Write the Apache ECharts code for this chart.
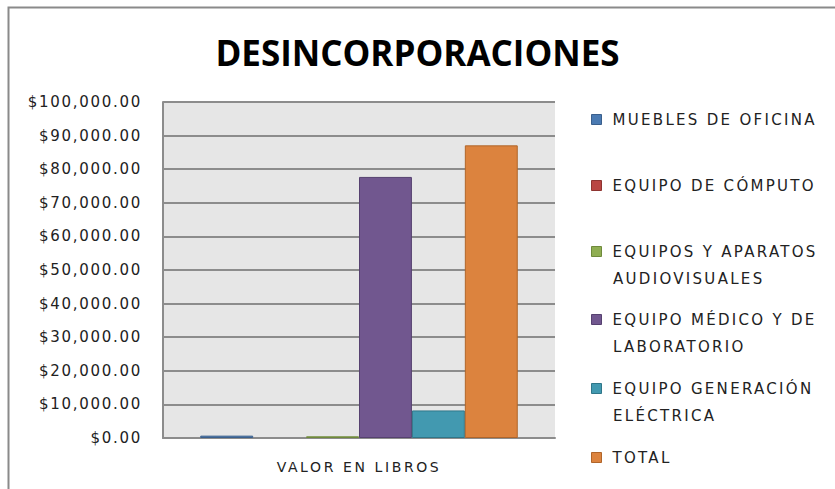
<!DOCTYPE html>
<html>
<head>
<meta charset="utf-8">
<script src="https://cdn.jsdelivr.net/npm/echarts@6/dist/echarts.min.js"></script>
<style>
  html, body { margin: 0; padding: 0; background: #fff; }
  #chart { width: 835px; height: 489px; }
</style>
</head>
<body>
<div id="chart"></div>
<script>
// categorias del eje x
const categorias = ['VALOR EN LIBROS'];
// nombres de las series (leyenda)
const nombres = [
  'MUEBLES DE OFICINA',
  'EQUIPO DE CÓMPUTO',
  'EQUIPOS Y APARATOS AUDIOVISUALES',
  'EQUIPO MÉDICO Y DE LABORATORIO',
  'EQUIPO GENERACIÓN ELÉCTRICA',
  'TOTAL'
];
// valores
const valores = [700, 0, 500, 77700, 8200, 87100];
// texto de la leyenda partido en lineas
const lineasLeyenda = [
  ['MUEBLES DE OFICINA'],
  ['EQUIPO DE CÓMPUTO'],
  ['EQUIPOS Y APARATOS', 'AUDIOVISUALES'],
  ['EQUIPO MÉDICO Y DE', 'LABORATORIO'],
  ['EQUIPO GENERACIÓN', 'ELÉCTRICA'],
  ['TOTAL']
];

const colores = ['#4a7ab2', '#b94542', '#8fae52', '#71578f', '#4299b0', '#dc833e'];
const bordes = ['#3a5f8c', '#8e3431', '#6f8a3c', '#564170', '#2f7689', '#b0652a'];

const chart = echarts.init(document.getElementById('chart'), null, { renderer: 'svg' });

const fuente = 'DejaVu Sans';
const leyendaTop = [107, 173, 239, 307, 376, 445];
const linea2Top = [271, 339, 408];

const legends = nombres.map((n, i) => ({
  data: [n],
  left: 586,
  top: leyendaTop[i],
  icon: 'rect',
  itemWidth: 10,
  itemHeight: 10,
  itemGap: 0,
  itemStyle: { borderWidth: 1, borderColor: bordes[i] },
  selectedMode: false,
  formatter: () => lineasLeyenda[i][0],
  textStyle: { fontFamily: fuente, fontSize: 15, color: '#222', padding: [0, 0, 0, 6] }
}));

const graphics = [
  {
    type: 'rect',
    shape: { x: 8.5, y: 7.5, width: 900, height: 600 },
    style: { fill: null, stroke: '#8a8a8a', lineWidth: 2 },
    silent: true
  }
];
let k = 0;
lineasLeyenda.forEach(l => {
  if (l.length > 1) {
    graphics.push({
      type: 'text',
      left: 613,
      top: linea2Top[k++],
      style: { text: l[1], font: '15px "DejaVu Sans"', fill: '#222' }
    });
  }
});

const option = {
  animation: false,
  title: {
    text: 'DESINCORPORACIONES',
    left: 'center',
    top: 30,
    textStyle: { fontFamily: 'Open Sans', fontWeight: 'bold', fontSize: 35, color: '#000' }
  },
  legend: legends,
  graphic: graphics,
  grid: {
    left: 163, right: 280, top: 102, bottom: 51,
    show: true, backgroundColor: '#e6e6e6', borderWidth: 0
  },
  xAxis: {
    type: 'category',
    data: categorias,
    axisLine: { show: true, lineStyle: { color: '#8c8c8c', width: 2 } },
    axisTick: { show: false },
    axisLabel: { fontFamily: fuente, fontSize: 14, color: '#222', margin: 22 }
  },
  yAxis: {
    type: 'value',
    min: 0,
    max: 100000,
    interval: 10000,
    axisLine: { show: true, lineStyle: { color: '#8c8c8c', width: 2 } },
    axisTick: { show: false },
    splitLine: { lineStyle: { color: '#8c8c8c', width: 2 } },
    axisLabel: {
      fontFamily: fuente, fontSize: 15, color: '#222', margin: 21,
      formatter: v => '$' + v.toLocaleString('en-US', { minimumFractionDigits: 2, maximumFractionDigits: 2 })
    }
  },
  series: nombres.map((n, i) => ({
    name: n,
    type: 'bar',
    data: [valores[i]],
    barGap: '0%',
    barCategoryGap: '19%',
    itemStyle: { color: colores[i], borderColor: bordes[i], borderWidth: valores[i] > 0 ? 1 : 0 }
  }))
};

chart.setOption(option);

// espaciado de letras como en el original
function espaciar() {
  document.querySelectorAll('#chart text').forEach(t => {
    const txt = t.textContent || '';
    const size = parseFloat(getComputedStyle(t).fontSize);
    let ls = 0;
    if (txt.charAt(0) === '$') ls = 1.7;
    else if (txt === categorias[0]) ls = 2.6;
    else if (size < 20) ls = 2.3;
    t.style.letterSpacing = ls + 'px';
  });
}
chart.on('finished', espaciar);
espaciar();
</script>
</body>
</html>
